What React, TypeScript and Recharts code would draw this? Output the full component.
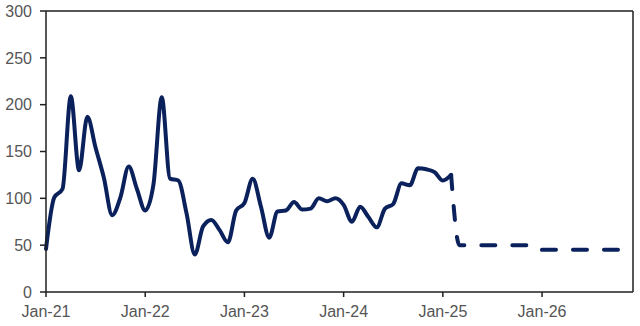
import React from 'react';
import { LineChart, Line, XAxis, YAxis, ReferenceLine } from 'recharts';

const MONTHS = ['Jan', 'Feb', 'Mar', 'Apr', 'May', 'Jun', 'Jul', 'Aug', 'Sep', 'Oct', 'Nov', 'Dec'];
const YEARS = ['21', '22', '23', '24', '25', '26'];

const actual2021 = [46, 101, 110, 209, 130, 187, 154, 122, 82, 101, 134, 110];
const actual2022 = [87, 115, 208, 121, 119, 84, 40, 70, 77, 66, 53, 87];
const actual2023 = [95, 121, 91, 58, 86, 87, 96, 88, 89, 100, 97, 100];
const actual2024 = [93, 75, 91, 80, 69, 89, 94, 116, 114, 132, 131, 128];
const actual2025 = [119, 125];

// forecast starts at Feb-25 (joins the last actual point)
const forecast2025 = [125, 50, 50, 50, 50, 50, 50, 50, 50, 50, 50];
const forecast2026 = [45, 45, 45, 45, 45, 45, 45, 45, 45, 45, 45, 45];

const Y_TICKS = [0, 50, 100, 150, 200, 250, 300];
const X_TICKS = ['Jan-21', 'Jan-22', 'Jan-23', 'Jan-24', 'Jan-25', 'Jan-26'];

const categories: string[] = [];
YEARS.forEach((y) => MONTHS.forEach((m) => categories.push(`${m}-${y}`)));

const actual = [...actual2021, ...actual2022, ...actual2023, ...actual2024, ...actual2025];
const forecast = [...forecast2025, ...forecast2026];
const forecastStart = categories.length - forecast.length;

const data = categories.map((month, i) => ({
  month,
  actual: i < actual.length ? actual[i] : null,
  forecast: i >= forecastStart ? forecast[i - forecastStart] : null,
}));

const LINE = '#0a215c';
const AXIS = '#1f1f1f';
const TICK_STYLE = { fill: '#555555', fontSize: 16, fontFamily: 'Liberation Sans, Arial, sans-serif' };

export default function App() {
  return (
    <div style={{ position: 'absolute', left: 0, top: 0, background: '#fff' }}>
      <LineChart width={640} height={326} data={data} margin={{ top: 11, right: 7, bottom: 4, left: 0 }}>
        <XAxis
          dataKey="month"
          ticks={X_TICKS}
          interval={0}
          tick={TICK_STYLE}
          tickSize={5}
          tickMargin={9}
          height={30}
          axisLine={{ stroke: AXIS, strokeWidth: 1.5 }}
          tickLine={{ stroke: AXIS, strokeWidth: 1.5 }}
        />
        <YAxis
          domain={[0, 300]}
          ticks={Y_TICKS}
          interval={0}
          width={46}
          tick={TICK_STYLE}
          tickSize={6}
          tickMargin={8}
          axisLine={{ stroke: AXIS, strokeWidth: 1.5 }}
          tickLine={{ stroke: AXIS, strokeWidth: 1.5 }}
        />
        <ReferenceLine y={300} stroke={AXIS} strokeWidth={1.5} ifOverflow="visible" />
        <ReferenceLine x="Dec-26" stroke={AXIS} strokeWidth={1.5} ifOverflow="visible" />
        <Line
          type="monotone"
          dataKey="actual"
          stroke={LINE}
          strokeWidth={4}
          dot={false}
          activeDot={false}
          isAnimationActive={false}
          connectNulls={false}
          strokeLinejoin="round"
          strokeLinecap="round"
        />
        <Line
          type="monotone"
          dataKey="forecast"
          stroke={LINE}
          strokeWidth={4}
          strokeDasharray="14 17"
          dot={false}
          activeDot={false}
          isAnimationActive={false}
          strokeLinejoin="round"
          strokeLinecap="round"
        />
      </LineChart>
    </div>
  );
}
